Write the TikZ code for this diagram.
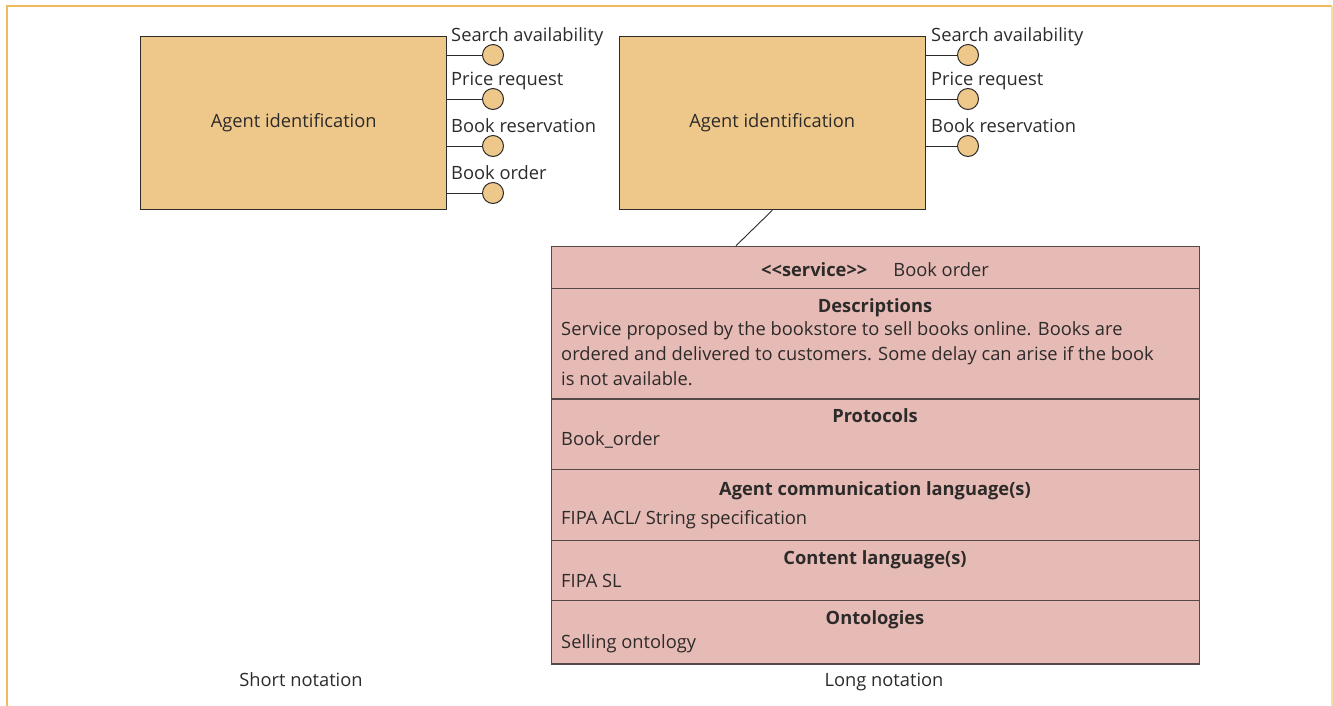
\documentclass[tikz,border=0pt]{standalone}
\usepackage{fontspec}
\setmainfont{Open Sans}
\usetikzlibrary{positioning}
\definecolor{agentfill}{RGB}{238,200,138}
\definecolor{svcfill}{RGB}{231,187,181}
\definecolor{inkgray}{RGB}{45,42,42}
\definecolor{svcline}{RGB}{85,72,72}
\definecolor{frametop}{RGB}{240,186,92}
\definecolor{frameside}{RGB}{246,222,160}
\newcommand{\txtsize}{\fontsize{18.3}{22}\selectfont}
\tikzset{
  txt/.style={inner sep=0pt, text=inkgray, font=\txtsize, text height=14pt, text depth=1pt},
  agentbox/.style={draw=inkgray, line width=1.4pt, fill=agentfill, minimum width=306pt, minimum height=173.5pt, anchor=north west, inner sep=0pt, text=inkgray, font=\txtsize},
  port/.style={draw=inkgray, line width=1pt, fill=agentfill, circle, minimum size=21pt, inner sep=0pt},
  portlabel/.style={txt, anchor=west},
  wire/.style={draw=inkgray, line width=1pt},
  compart/.style={draw=svcline, line width=1.4pt, fill=svcfill, minimum width=648pt, anchor=north west, inner sep=0pt},
  head/.style={txt, font=\txtsize\bfseries},
  body/.style={txt, anchor=west},
  caption/.style={txt}
}
\begin{document}
\begin{tikzpicture}[x=1pt, y=-1pt]
\useasboundingbox (0,0) rectangle (1333,705);
% outer frame, open at the bottom
\draw[frametop, line width=2pt] (7,706) -- (7,5.5) -- (1332,5.5);
\draw[frameside, line width=2pt] (1332,5.5) -- (1332,706);

% short notation: agent with four service ports
\node[agentbox] (a1) at (140,35.5) {Agent identification};
\foreach \n/\y/\t in {1/55/Search availability, 2/99/Price request, 3/146/Book reservation, 4/193/Book order}{
  \node[port] (p1\n) at (493,\y) {};
  \draw[wire] (a1.east |- p1\n) -- (p1\n);
  \node[portlabel] (l1\n) at (451,\y-20.5) {\t};
}

% long notation: agent with three ports and a detailed service
\node[agentbox] (a2) at (618.5,35.5) {Agent identification};
\foreach \n/\y/\t in {1/55/Search availability, 2/99/Price request, 3/146/Book reservation}{
  \node[port] (p2\n) at (968,\y) {};
  \draw[wire] (a2.east |- p2\n) -- (p2\n);
  \node[portlabel] (l2\n) at (931,\y-20.5) {\t};
}

% service compartments
\node[compart, minimum height=42pt] (c1) at (551,245.7) {};
\node[compart, minimum height=110.6pt] (c2) at (551,287.7) {};
\node[compart, minimum height=70.7pt] (c3) at (551,398.3) {};
\node[compart, minimum height=71pt] (c4) at (551,469) {};
\node[compart, minimum height=60pt] (c5) at (551,540) {};
\node[compart, minimum height=63.3pt] (c6) at (551,600) {};

\coordinate (link) at (736,245.7);
\draw[wire, line width=0.9pt] (a2.south) -- (link);

\node[txt] (t1) at (875,270)
  {\textbf{{<}{<}service{>}{>}}\hspace{26pt}Book order};

\node[head] (h2) at (875,306) {Descriptions};
\node[body] (d1) at (561,329) {Service proposed by the bookstore to sell books online. Books are};
\node[body] (d2) at (561,354) {ordered and delivered to customers. Some delay can arise if the book};
\node[body] (d3) at (561,379) {is not available.};

\node[head] (h3) at (875,416) {Protocols};
\node[body] (b3) at (561,439) {Book\_order};

\node[head] (h4) at (875,489) {Agent communication language(s)};
\node[body] (b4) at (561,517.5) {FIPA ACL/ String specification};

\node[head] (h5) at (875,558) {Content language(s)};
\node[body] (b5) at (561,581) {FIPA SL};

\node[head] (h6) at (875,618) {Ontologies};
\node[body] (b6) at (561,642) {Selling ontology};

\node[caption] (s1) at (301,680) {Short notation};
\node[caption] (s2) at (884,680) {Long notation};
\end{tikzpicture}
\end{document}
